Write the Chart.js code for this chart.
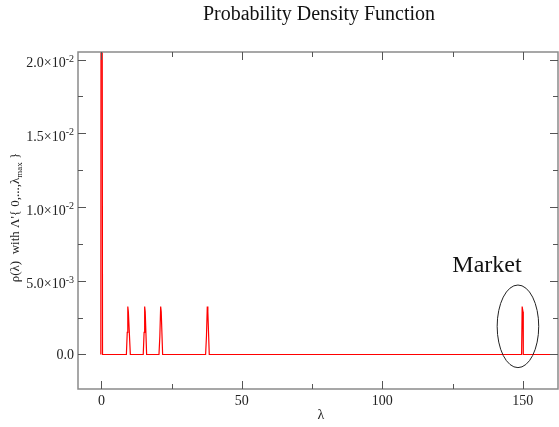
<!DOCTYPE html>
<html><head><meta charset="utf-8">
<script src="https://cdn.jsdelivr.net/npm/chart.js@4"></script>
<style>html,body{margin:0;padding:0;background:#fff;}#wrap{width:559px;height:427px;}</style>
</head><body><div id="wrap"><canvas id="c" width="559" height="427"></canvas></div>
<script>
// ---- data ----
const lambdaValues = [-0.2, 0.0, 0.4, 8.9, 9.2, 9.4, 9.6, 9.8, 10.3, 14.9, 15.2, 15.4, 15.6, 16.1, 20.5, 20.8, 21.1, 21.3, 21.8, 37.1, 37.4, 37.7, 37.9, 38.4, 148.9, 149.6, 149.8, 150.1, 150.2, 162.5];
const rhoValues    = [0.0, 0.08, 0.0, 0.0, 0.0015, 0.00325, 0.0029, 0.0029, 0.0, 0.0, 0.0015, 0.00325, 0.0029, 0.0, 0.0, 0.0012, 0.00325, 0.0029, 0.0, 0.0, 0.0012, 0.00325, 0.0029, 0.0, 0.0, 0.0, 0.00325, 0.0029, 0.0, 0.0];
const xMajorTicks = [0, 50, 100, 150];
const xMinorTicks = [25, 75, 125];
const yMajorTicks = [0, 0.005, 0.01, 0.015, 0.02];
const yMinorTicks = [0.0025, 0.0075, 0.0125, 0.0175];
const yTickMantissa = ['0.0', '5.0\u00d710', '1.0\u00d710', '1.5\u00d710', '2.0\u00d710'];
const yTickExponent = ['', '-3', '-2', '-2', '-2'];
const titleText = 'Probability Density Function';
const xAxisTitle = '\u03bb';
const yAxisTitleMain = "\u03c1(\u03bb)  with \u039b'{ 0,...,\u03bb";
const yAxisTitleSub = 'max';
const yAxisTitleEnd = ' }';
const annotationLabel = 'Market';
const marketEllipseCenter = [148.3, 0.00191];
const marketEllipseRadii = [7.4, 0.0028];
const xRange = [-8.33, 162.56];
const yRange = [-0.00234, 0.02051];

const SERIF = '"Liberation Serif", "Times New Roman", serif';

const decor = {
  id: 'decor',
  afterDraw(chart) {
    const ctx = chart.ctx;
    const a = chart.chartArea;
    const xs = chart.scales.x, ys = chart.scales.y;
    ctx.save();
    // frame
    ctx.strokeStyle = '#8a8a8a';
    ctx.lineWidth = 1.5;
    ctx.strokeRect(a.left, a.top, a.right - a.left, a.bottom - a.top);
    // ticks
    ctx.strokeStyle = '#555';
    ctx.lineWidth = 1;
    const xt = (vals, len) => vals.forEach(v => {
      const px = Math.round(xs.getPixelForValue(v)) + 0.5;
      ctx.beginPath(); ctx.moveTo(px, a.bottom); ctx.lineTo(px, a.bottom - len); ctx.stroke();
      ctx.beginPath(); ctx.moveTo(px, a.top); ctx.lineTo(px, a.top + len); ctx.stroke();
    });
    const yt = (vals, len) => vals.forEach(v => {
      const py = Math.round(ys.getPixelForValue(v)) + 0.5;
      ctx.beginPath(); ctx.moveTo(a.left, py); ctx.lineTo(a.left + len, py); ctx.stroke();
      ctx.beginPath(); ctx.moveTo(a.right, py); ctx.lineTo(a.right - len, py); ctx.stroke();
    });
    xt(xMajorTicks, 8); xt(xMinorTicks, 5);
    yt(yMajorTicks, 8); yt(yMinorTicks, 5);
    // y tick labels
    ctx.fillStyle = '#222';
    ctx.textBaseline = 'middle';
    yMajorTicks.forEach((v, i) => {
      const py = ys.getPixelForValue(v);
      const right = a.left - 4;
      const exp = yTickExponent[i];
      if (exp) {
        ctx.font = '10px ' + SERIF;
        const ew = ctx.measureText(exp).width;
        ctx.textAlign = 'left';
        ctx.fillText(exp, right - ew, py - 0.5);
        ctx.font = '14px ' + SERIF;
        ctx.textAlign = 'right';
        ctx.fillText(yTickMantissa[i], right - ew, py + 4);
      } else {
        ctx.font = '14px ' + SERIF;
        ctx.textAlign = 'right';
        ctx.fillText(yTickMantissa[i], right, py + 1);
      }
    });
    // y axis title
    ctx.save();
    ctx.translate(19, (a.top + a.bottom) / 2 - 3);
    ctx.rotate(-Math.PI / 2);
    ctx.font = '13px ' + SERIF;
    const w1 = ctx.measureText(yAxisTitleMain).width;
    ctx.font = '9px ' + SERIF;
    const w2 = ctx.measureText(yAxisTitleSub).width;
    ctx.font = '13px ' + SERIF;
    const w3 = ctx.measureText(yAxisTitleEnd).width;
    let x0 = -(w1 + w2 + w3) / 2;
    ctx.textAlign = 'left'; ctx.textBaseline = 'alphabetic';
    ctx.fillText(yAxisTitleMain, x0, 0);
    ctx.font = '9px ' + SERIF;
    ctx.fillText(yAxisTitleSub, x0 + w1, 3);
    ctx.font = '13px ' + SERIF;
    ctx.fillText(yAxisTitleEnd, x0 + w1 + w2, 0);
    ctx.restore();
    // x axis title
    ctx.font = '14px ' + SERIF;
    ctx.textAlign = 'center'; ctx.textBaseline = 'alphabetic';
    ctx.fillText(xAxisTitle, (a.left + a.right) / 2 + 3, 419);
    // main title
    ctx.font = '20px ' + SERIF;
    ctx.fillStyle = '#111';
    ctx.fillText(titleText, (a.left + a.right) / 2 + 1, 20);
    // ellipse
    const cx = xs.getPixelForValue(marketEllipseCenter[0]);
    const cy = ys.getPixelForValue(marketEllipseCenter[1]);
    const rx = Math.abs(xs.getPixelForValue(marketEllipseCenter[0] + marketEllipseRadii[0]) - cx);
    const ry = Math.abs(ys.getPixelForValue(marketEllipseCenter[1] + marketEllipseRadii[1]) - cy);
    ctx.strokeStyle = '#222'; ctx.lineWidth = 1;
    ctx.beginPath(); ctx.ellipse(cx, cy, rx, ry, 0, 0, Math.PI * 2); ctx.stroke();
    // Market label
    ctx.font = '24px ' + SERIF;
    ctx.fillStyle = '#111';
    ctx.textAlign = 'center';
    ctx.fillText(annotationLabel, cx - 31, cy - ry - 13);
    ctx.restore();
  }
};

new Chart(document.getElementById('c'), {
  type: 'line',
  data: {
    datasets: [{
      data: lambdaValues.map((x, i) => ({ x: x, y: rhoValues[i] })),
      borderColor: '#ff0000',
      borderWidth: 1.2,
      pointRadius: 0,
      tension: 0,
      fill: false
    }]
  },
  options: {
    responsive: false,
    animation: false,
    events: [],
    layout: { padding: { top: 52, right: 1, left: 0, bottom: 0 } },
    plugins: { legend: { display: false }, title: { display: false }, tooltip: { enabled: false } },
    scales: {
      x: {
        type: 'linear', min: xRange[0], max: xRange[1],
        grid: { display: false, drawTicks: false }, border: { display: false },
        afterFit: s => { s.height = 38; },
        afterBuildTicks: s => { s.ticks = xMajorTicks.map(v => ({ value: v })); },
        ticks: { autoSkip: false, maxRotation: 0, padding: 4, color: '#222',
                 font: { family: SERIF, size: 14 } }
      },
      y: {
        type: 'linear', min: yRange[0], max: yRange[1],
        grid: { display: false, drawTicks: false }, border: { display: false },
        afterFit: s => { s.width = 78; },
        ticks: { display: false }
      }
    }
  },
  plugins: [decor]
});
</script>
</body></html>
